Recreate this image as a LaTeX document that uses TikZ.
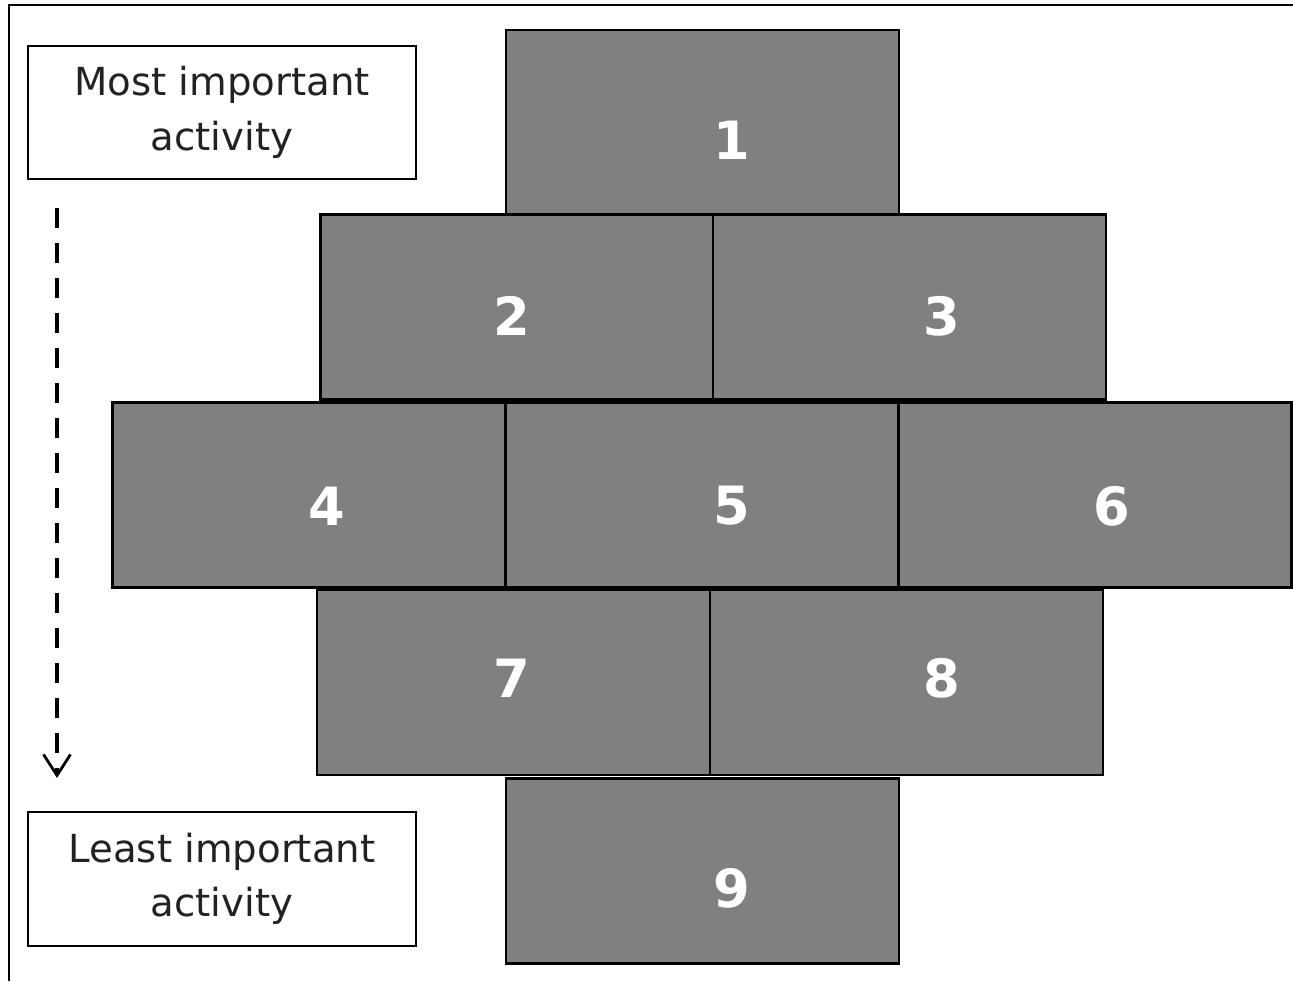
\documentclass[tikz,border=0pt]{standalone}
\usepackage{fontspec}
\setmainfont{DejaVu Sans}
\usetikzlibrary{arrows.meta}
\definecolor{tilegray}{RGB}{128,128,128}
\definecolor{notetext}{RGB}{34,34,34}
\tikzset{
  tile/.style={draw=black, line width=1.2pt, fill=tilegray, rectangle,
    minimum width=7.86cm, minimum height=3.7cm, inner sep=0pt},
  num/.style={text=white, font=\fontsize{30}{30}\selectfont\bfseries, inner sep=0pt},
  note/.style={draw=black, line width=1pt, rectangle, align=center,
    minimum width=7.76cm, minimum height=2.67cm, text=notetext,
    font=\fontsize{22}{31}\selectfont}
}
\begin{document}
\begin{tikzpicture}
  \useasboundingbox (0,0) rectangle (25.86,-19.62);
  % frame
  \draw[line width=1.5pt] (0.18,-19.62) -- (0.18,-0.1) -- (25.86,-0.1);
  % tiles
  \node[tile] (b1) at (14.05,-2.45) {};
  \node[tile] (b2) at (10.34,-6.14) {};
  \node[tile] (b3) at (18.19,-6.14) {};
  \node[tile] (b4) at (6.18,-9.90) {};
  \node[tile] (b5) at (14.05,-9.90) {};
  \node[tile] (b6) at (21.90,-9.90) {};
  \node[tile] (b7) at (10.27,-13.65) {};
  \node[tile] (b8) at (18.13,-13.65) {};
  \node[tile] (b9) at (14.05,-17.42) {};
  % numbers
  \node[num] (n1) at (14.64,-2.80) {1};
  \node[num] (n2) at (10.24,-6.32) {2};
  \node[num] (n3) at (18.84,-6.32) {3};
  \node[num] (n4) at (6.54,-10.12) {4};
  \node[num] (n5) at (14.64,-10.12) {5};
  \node[num] (n6) at (22.24,-10.12) {6};
  \node[num] (n7) at (10.24,-13.56) {7};
  \node[num] (n8) at (18.84,-13.56) {8};
  \node[num] (n9) at (14.64,-17.76) {9};
  % notes and arrow
  \node[note] (most) at (4.44,-2.25) {Most important\\activity};
  \node[note] (least) at (4.44,-17.58) {Least important\\activity};
  \coordinate (arrtop) at (1.14,-4.16);
  \coordinate (arrbot) at (1.14,-15.56);
  \draw[line width=2pt, dash pattern=on 0.4cm off 0.3cm,
    -{Straight Barb[length=0.42cm, width=0.54cm, line width=1.6pt]}] (arrtop) -- (arrbot);
\end{tikzpicture}
\end{document}
